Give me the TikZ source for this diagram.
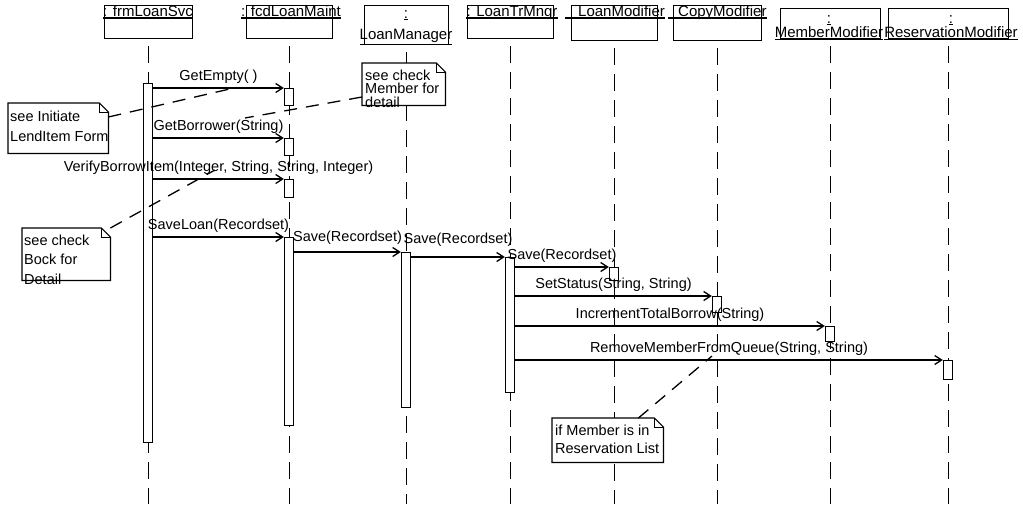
\documentclass[tikz,border=0pt]{standalone}
\usepackage{fontspec}
\setmainfont{Liberation Sans}
\usetikzlibrary{arrows.meta}

% folded-corner outline around an (invisible) note area node
\newcommand{\notefold}[1]{%
  \draw[noteline] (#1.north west) -- ([xshift=-9pt]#1.north east)
    -- ([yshift=-9pt]#1.north east) -- (#1.south east) -- (#1.south west) -- cycle;
  \draw[line width=1pt] ([xshift=-9pt]#1.north east) -- ([xshift=-9pt,yshift=-9pt]#1.north east)
    -- ([yshift=-9pt]#1.north east);
}

\begin{document}
\begin{tikzpicture}[x=1pt,y=-1pt,
  txt/.style={font=\fontsize{14.5}{17}\selectfont, inner sep=0pt},
  hdr/.style={font=\fontsize{15}{17}\selectfont, inner sep=0pt, anchor=base},
  hdrtwo/.style={font=\fontsize{15}{#1}\selectfont, inner sep=0pt, anchor=south, align=center},
  objbox/.style={draw, line width=1.3pt, fill=white, inner sep=0pt, anchor=north west},
  uline/.style={line width=1.1pt},
  life/.style={line width=1.3pt, dash pattern=on 17pt off 9pt},
  actbar/.style={draw, line width=1.3pt, fill=white, inner sep=0pt, minimum width=9pt, anchor=north},
  msg/.style={line width=1.3pt, -{Straight Barb[length=7pt,width=9pt]}},
  msglbl/.style={txt, midway, anchor=base, yshift=8pt},
  notearea/.style={inner sep=0pt, anchor=north west},
  noteline/.style={line width=1.2pt, fill=white},
  notetext/.style={inner sep=0pt, anchor=north west, align=left},
  anchorline/.style={line width=1.3pt, dash pattern=on 13pt off 9pt},
]
\useasboundingbox[fill=white] (0,0) rectangle (1023,504);

% ---------- object boxes ----------
\node[objbox, minimum width=88pt, minimum height=33pt] (hA) at (104,5) {};
\node[objbox, minimum width=86pt, minimum height=33pt] (hB) at (246,5) {};
\node[objbox, minimum width=84pt, minimum height=39pt] (hC) at (364,5) {};
\node[objbox, minimum width=86pt, minimum height=33pt] (hD) at (467,5) {};
\node[objbox, minimum width=86pt, minimum height=35pt] (hE) at (571,5) {};
\node[objbox, minimum width=88pt, minimum height=35pt] (hF) at (673,5) {};
\node[objbox, minimum width=100pt, minimum height=30pt] (hG) at (780,8) {};
\node[objbox, minimum width=120pt, minimum height=30pt] (hH) at (888,8) {};

% ---------- object names (underlined) ----------
\node[hdr] (tA) at (148,16) {: frmLoanSvc};
\node[hdr] (tB) at (291,16) {: fcdLoanMaint};
\node[hdr] (tD) at (512,16) {: LoanTrMngr};
\node[hdr, anchor=base west] (tE) at (578,16) {LoanModifier};
\node[hdr, anchor=base west] (tF) at (678,16) {CopyModifier};
\foreach \t in {tA,tB,tD}
  \draw[uline] ([yshift=-2pt]\t.base west) -- ([yshift=-2pt]\t.base east);
\draw[uline] ([yshift=-2pt]tE.base west) ++(-13,0) -- ([yshift=-2pt]tE.base east);
\draw[uline] ([yshift=-2pt]tF.base west) ++(-10,0) -- ([yshift=-2pt]tF.base east);
\node[hdrtwo=21] (tC) at (406,44.5) {\underline{:}\\\underline{LoanManager}};
\node[hdrtwo=12] (tG) at (829,39.5) {\underline{:}\\\underline{MemberModifier}};
\node[hdrtwo=12] (tH) at (951,39.5) {\underline{:}\\\underline{ReservationModifier}};

% ---------- lifelines ----------
\foreach \h in {hA,hB,hC,hD,hE,hF,hG,hH}
  \draw[life] ([yshift=-7pt]\h.south) -- (\h.south |- 0,504);

% ---------- activation bars ----------
\node[actbar, minimum height=359pt] (a0) at (148,83) {};
\node[actbar, minimum height=17pt]  (b1) at (289,88) {};
\node[actbar, minimum height=17pt]  (b2) at (289,138) {};
\node[actbar, minimum height=18pt]  (b3) at (289,179) {};
\node[actbar, minimum height=188pt] (b4) at (289,237) {};
\node[actbar, minimum height=155pt] (c1) at (406,252) {};
\node[actbar, minimum height=135pt] (d1) at (510,257) {};
\node[actbar, minimum height=13pt]  (e1) at (614,267) {};
\node[actbar, minimum height=16pt]  (f1) at (717,296) {};
\node[actbar, minimum height=15pt]  (g1) at (830,326) {};
\node[actbar, minimum height=19pt]  (h1) at (948,360) {};

% ---------- messages ----------
\draw[msg] (a0.east |- b1.north) -- (b1.north west) node[msglbl] {GetEmpty( )};
\draw[msg] (a0.east |- b2.north) -- (b2.north west) node[msglbl] {GetBorrower(String)};
\draw[msg] (a0.east |- b3.north) -- (b3.north west) node[msglbl] {VerifyBorrowItem(Integer, String, String, Integer)};
\draw[msg] (a0.east |- b4.north) -- (b4.north west) node[msglbl] {SaveLoan(Recordset)};
\draw[msg] (b4.east |- c1.north) -- (c1.north west) node[msglbl, yshift=3pt] {Save(Recordset)};
\draw[msg] (c1.east |- d1.north) -- (d1.north west) node[msglbl, yshift=6pt] {Save(Recordset)};
\draw[msg] (d1.east |- e1.north) -- (e1.north west) node[msglbl] {Save(Recordset)};
\draw[msg] (d1.east |- f1.north) -- (f1.north west) node[msglbl] {SetStatus(String, String)};
\draw[msg] (d1.east |- g1.north) -- (g1.north west) node[msglbl] {IncrementTotalBorrow(String)};
\draw[msg] (d1.east |- h1.north) -- (h1.north west) node[msglbl] {RemoveMemberFromQueue(String, String)};

% ---------- notes ----------
\node[notearea, minimum width=100pt, minimum height=50pt] (n1) at (8,103) {};
\notefold{n1}
\node[notetext, font=\fontsize{14.5}{20}\selectfont] (t1) at (10,110.5) {see Initiate\\LendItem Form};

\node[notearea, minimum width=83pt, minimum height=42pt] (n2) at (362,63) {};
\notefold{n2}
\node[notetext, font=\fontsize{14.5}{13.5}\selectfont] (t2) at (365,69.5) {see check\\Member for\\detail};

\node[notearea, minimum width=88pt, minimum height=52pt] (n3) at (22,228) {};
\notefold{n3}
\node[notetext, font=\fontsize{14.5}{19.5}\selectfont] (t3) at (24,234.5) {see check\\Bock for\\Detail};

\node[notearea, minimum width=111pt, minimum height=44pt] (n4) at (552,418) {};
\notefold{n4}
\node[notetext, font=\fontsize{14.5}{18}\selectfont] (t4) at (555,424.5) {if Member is in\\Reservation List};

% ---------- note anchors ----------
\coordinate (k1) at (234,88);
\coordinate (k2) at (245,118);
\coordinate (k3) at (215,170);
\coordinate (k4) at (712,356);
\draw[anchorline] ([yshift=-14pt]n1.north east) -- (k1);
\draw[anchorline] ([yshift=-34pt]n2.north west) -- (k2);
\draw[anchorline] (n3.north east) -- (k3);
\draw[anchorline] ([xshift=-25pt]n4.north east) -- (k4);
\end{tikzpicture}
\end{document}
